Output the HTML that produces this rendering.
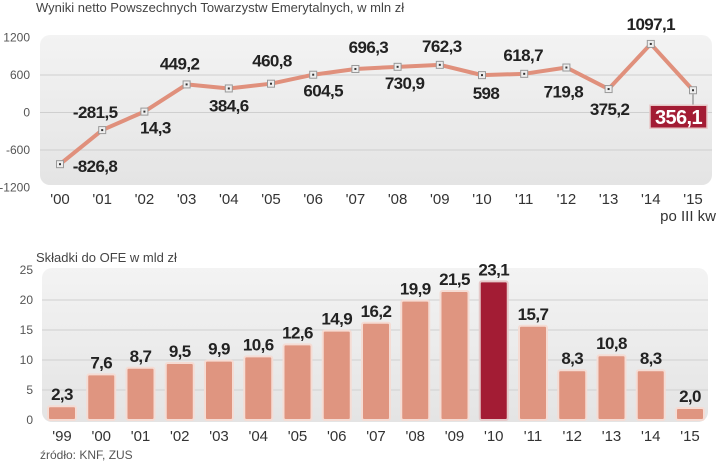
<!DOCTYPE html>
<html><head><meta charset="utf-8"><style>
body{margin:0;background:#fff;width:720px;height:463px;overflow:hidden;font-family:"Liberation Sans",sans-serif}
svg text{font-family:"Liberation Sans",sans-serif}
.v{font-family:"Liberation Sans Narrow","Liberation Sans",sans-serif;font-weight:bold;font-size:17px;letter-spacing:-0.6px;fill:#222}
.t{font-size:13px;fill:#444}
.ax{font-size:12px;fill:#555}
.xl{font-size:15px;fill:#333}
</style></head><body>
<svg width="720" height="463">
<defs>
<linearGradient id="g" x1="0" y1="0" x2="0" y2="1"><stop offset="0" stop-color="#f3f3f3"/><stop offset="1" stop-color="#e4e4e4"/></linearGradient>
</defs>
<text x="36" y="12" class="t">Wyniki netto Powszechnych Towarzystw Emerytalnych, w mln zł</text>
<rect x="40" y="35" width="672" height="150" rx="10" fill="url(#g)"/>
<g id="topg"></g>
<text x="36" y="262" class="t">Składki do OFE w mld zł</text>
<rect x="42" y="268" width="666" height="154" rx="10" fill="url(#g)"/>
<g id="botg"></g>
<text x="40" y="459" class="ax">źródło: KNF, ZUS</text>
</svg>
<script>
const years1=["'00","'01","'02","'03","'04","'05","'06","'07","'08","'09","'10","'11","'12","'13","'14","'15"];
const results=[-826.8,-281.5,14.3,449.2,384.6,460.8,604.5,696.3,730.9,762.3,598,618.7,719.8,375.2,1097.1,356.1];
const resultLabels=["-826,8","-281,5","14,3","449,2","384,6","460,8","604,5","696,3","730,9","762,3","598","618,7","719,8","375,2","1097,1","356,1"];
const yTicks1=[1200,600,0,-600,-1200];
const years2=["'99","'00","'01","'02","'03","'04","'05","'06","'07","'08","'09","'10","'11","'12","'13","'14","'15"];
const contrib=[2.3,7.6,8.7,9.5,9.9,10.6,12.6,14.9,16.2,19.9,21.5,23.1,15.7,8.3,10.8,8.3,2.0];
const contribLabels=["2,3","7,6","8,7","9,5","9,9","10,6","12,6","14,9","16,2","19,9","21,5","23,1","15,7","8,3","10,8","8,3","2,0"];
const yTicks2=[25,20,15,10,5,0];
const NS="http://www.w3.org/2000/svg";
function mk(p,t,a,txt){const e=document.createElementNS(NS,t);for(const k in a)e.setAttribute(k,a[k]);if(txt!==undefined)e.textContent=txt;p.appendChild(e);return e;}
const gTop=document.getElementById('topg');
const x1=i=>60+i*42.2, y1=v=>112.5-v*0.0625;
yTicks1.forEach(t=>{
 if(t<1200&&t>-1200){const l=mk(gTop,'line',{x1:40,x2:712,y1:y1(t),y2:y1(t),stroke:'#cfcfcf','stroke-width':1});
 
 }
 const e=mk(gTop,'text',{x:30,y:y1(t)+4,'text-anchor':'end',class:'ax'},String(t));
 
 
});
const pl=mk(gTop,'polyline',{points:results.map((v,i)=>x1(i)+','+y1(v)).join(' '),fill:'none',stroke:'#e0907c','stroke-width':4,'stroke-linejoin':'round'});


const off=[[35,2],[-7,-18],[11,16],[-7,-21],[0,17],[1,-23],[10,16],[13,-22],[7,16],[2,-19],[4,18],[-1,-19],[-3,24],[1,20],[0,-20],[0,0]];
results.forEach((v,i)=>{
 const p=mk(gTop,'rect',{x:x1(i)-3.5,y:y1(v)-3.5,width:7,height:7,fill:'#eee',stroke:'#999','stroke-width':1});
 
 
 mk(gTop,'rect',{x:x1(i)-1,y:y1(v)-1,width:2,height:2,fill:'#333'});
 if(i===results.length-1){
  mk(gTop,'line',{x1:x1(i),x2:x1(i),y1:y1(v)+4,y2:y1(v)+15,stroke:'#777'});
  const b=mk(gTop,'rect',{x:x1(i)-43,y:y1(v)+15,width:57,height:23,fill:'#a31c34',stroke:'#e8c8c8','stroke-width':1.5});
  
  
  const t=mk(gTop,'text',{x:x1(i)-14.5,y:y1(v)+34,'text-anchor':'middle',class:'v',style:'fill:#fff;font-size:20px'},resultLabels[i]);
  
  
 } else {
  const t=mk(gTop,'text',{x:x1(i)+off[i][0],y:y1(v)+off[i][1]+6,'text-anchor':'middle',class:'v'},resultLabels[i]);
  
  
 }
});
years1.forEach((y,i)=>{const t=mk(gTop,'text',{x:x1(i),y:204,'text-anchor':'middle',class:'xl'},y);
 
 });
{const t=mk(gTop,'text',{x:716,y:221,'text-anchor':'end',class:'xl'},'po III kw');
 
 }
const gBot=document.getElementById('botg');
const x2=i=>62+i*39.25, y2=v=>420-v*6;
yTicks2.forEach(t=>{
 if(t>0&&t<25){const l=mk(gBot,'line',{x1:42,x2:708,y1:y2(t),y2:y2(t),stroke:'#d0d0d0'});
 
 }
 const e=mk(gBot,'text',{x:33,y:y2(t)+4,'text-anchor':'end',class:'ax'},String(t));
 
 
});
contrib.forEach((v,i)=>{
 const hl=years2[i]==="'10";
 const b=mk(gBot,'rect',{x:x2(i)-14,y:y2(v),width:28,height:v*6,fill:hl?'#a31c34':'#df9580',stroke:hl?'#e6c9c9':'#f5dcd4','stroke-width':2,rx:2});
 
 
 const t=mk(gBot,'text',{x:x2(i),y:y2(v)-6,'text-anchor':'middle',class:'v'},contribLabels[i]);
 
 
 const x=mk(gBot,'text',{x:x2(i),y:441,'text-anchor':'middle',class:'xl'},years2[i]);
 
 
});
</script>
</body></html>
